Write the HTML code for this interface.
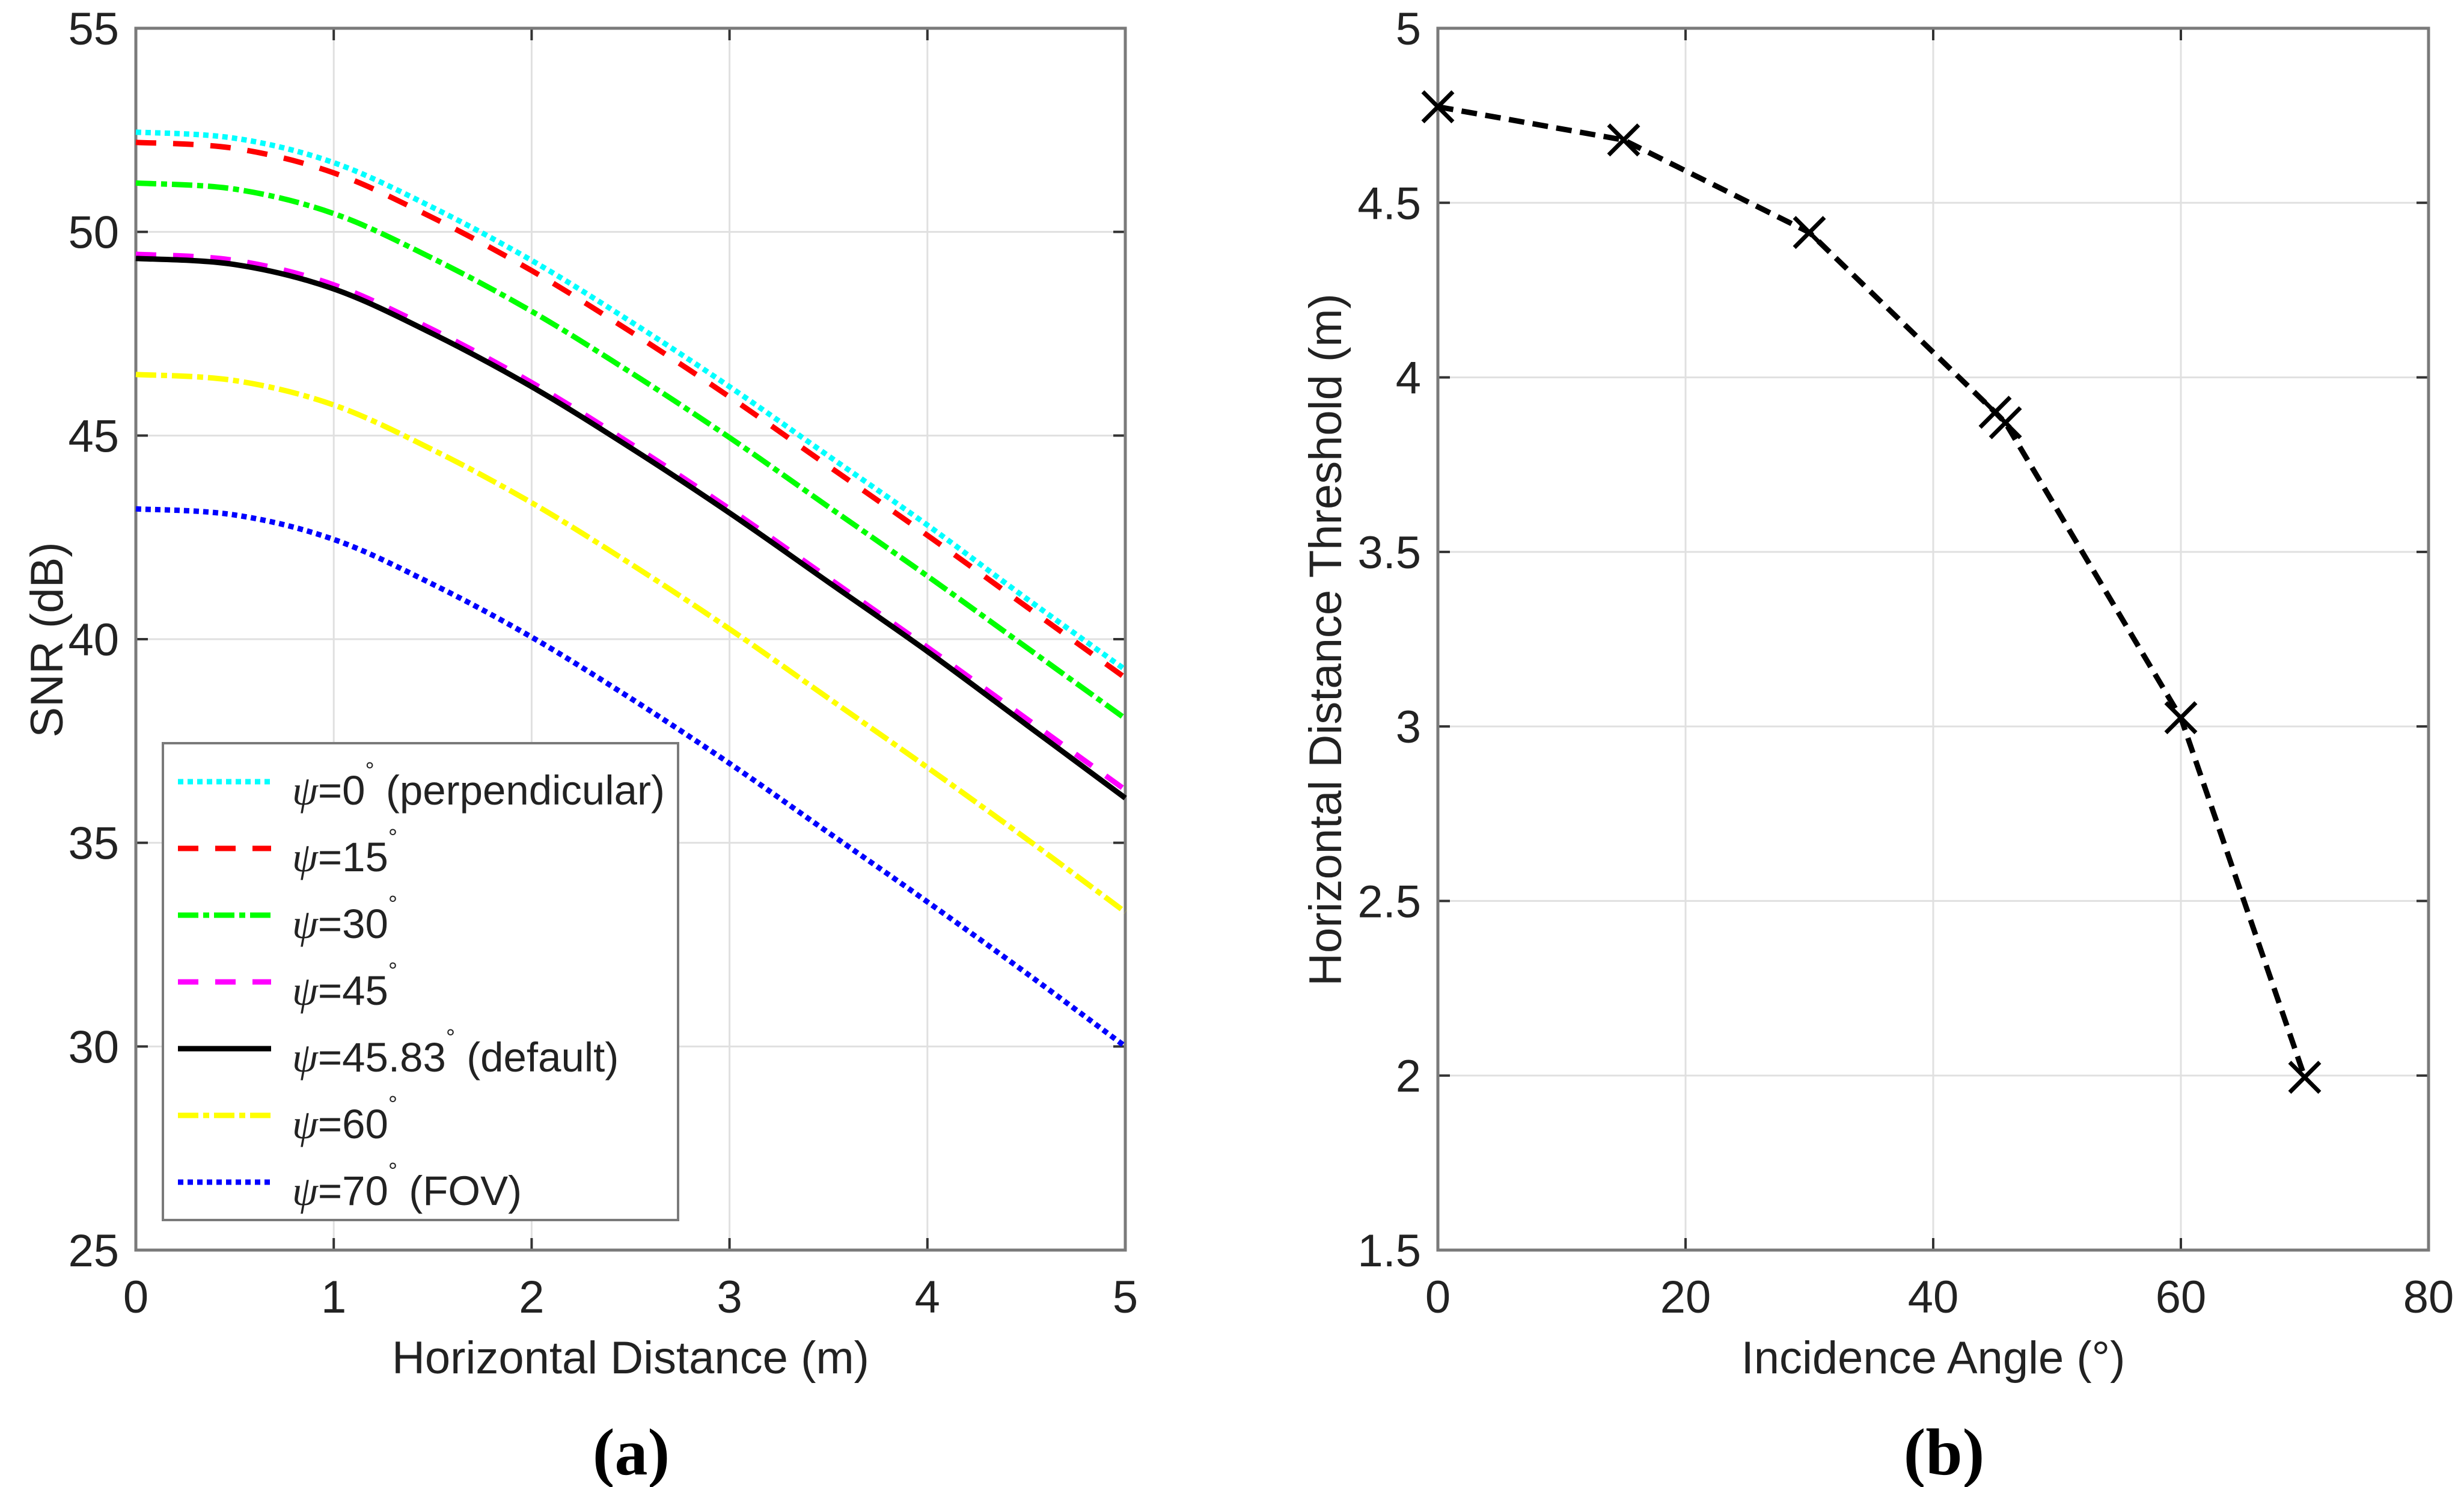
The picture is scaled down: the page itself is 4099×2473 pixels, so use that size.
<!DOCTYPE html>
<html><head><meta charset="utf-8"><style>
html,body{margin:0;padding:0;background:#fff;}
svg{display:block;font-family:"Liberation Sans",Arial,sans-serif;}
</style></head><body>
<svg id="fig" width="4099" height="2473" viewBox="0 0 4099 2473" xmlns="http://www.w3.org/2000/svg">
<rect x="0" y="0" width="4099" height="2473" fill="#fff"/>
<g id="pa"></g>
<g id="pb"></g>
<text x="1050" y="2452" font-family="Liberation Serif,serif" font-weight="bold" font-size="110" text-anchor="middle">(a)</text>
<text x="3234" y="2452" font-family="Liberation Serif,serif" font-weight="bold" font-size="110" text-anchor="middle">(b)</text>
</svg>
<script>
// ---- Chart (a) data ----
const distX = [0,0.5,1,1.5,2,2.5,3,3.5,4,4.5,5];
const snrPsi0  = [52.45,52.3,51.7,50.6,49.3,47.8,46.2,44.5,42.8,41.0,39.25];
const snrPsi15 = [52.2,52.05,51.45,50.35,49.05,47.55,45.95,44.25,42.55,40.8,39.05];
const snrPsi30 = [51.2,51.05,50.45,49.35,48.05,46.55,44.95,43.25,41.55,39.8,38.05];
const snrPsi45 = [49.45,49.3,48.7,47.6,46.3,44.8,43.2,41.5,39.8,38.05,36.3];
const snrPsiDefault = [49.35,49.2,48.6,47.5,46.2,44.7,43.1,41.4,39.7,37.9,36.1];
const snrPsi60 = [46.5,46.35,45.75,44.65,43.35,41.85,40.25,38.55,36.85,35.1,33.3];
const snrPsi70 = [43.2,43.05,42.45,41.35,40.05,38.55,36.95,35.25,33.55,31.8,30.0];
const aXTicks = [0,1,2,3,4,5];
const aYTicks = [25,30,35,40,45,50,55];
const legendLabels = [["0"," (perpendicular)"],["15",""],["30",""],["45",""],["45.83"," (default)"],["60",""],["70"," (FOV)"]];
// ---- Chart (b) data ----
const angleX = [0,15,30,45,45.83,60,70];
const thresholdY = [4.775,4.68,4.415,3.90,3.87,3.025,1.995];
const bXTicks = [0,20,40,60,80];
const bYTicks = [1.5,2,2.5,3,3.5,4,4.5,5];
const bYTickLabels = ["1.5","2","2.5","3","3.5","4","4.5","5"];

const NS="http://www.w3.org/2000/svg";
function mk(parent,tag,attrs){const e=document.createElementNS(NS,tag);for(const k in attrs)e.setAttribute(k,attrs[k]);parent.appendChild(e);return e;}

function smoothPath(pts){
  let d="M"+pts[0][0].toFixed(1)+","+pts[0][1].toFixed(1);
  for(let i=0;i<pts.length-1;i++){
    const p0=pts[Math.max(0,i-1)],p1=pts[i],p2=pts[i+1],p3=pts[Math.min(pts.length-1,i+2)];
    const c1x=p1[0]+(p2[0]-p0[0])/6,c1y=p1[1]+(p2[1]-p0[1])/6;
    const c2x=p2[0]-(p3[0]-p1[0])/6,c2y=p2[1]-(p3[1]-p1[1])/6;
    d+=" C"+c1x.toFixed(1)+","+c1y.toFixed(1)+" "+c2x.toFixed(1)+","+c2y.toFixed(1)+" "+p2[0].toFixed(1)+","+p2[1].toFixed(1);
  }
  return d;
}

function axesFrame(g,L,R,T,B,xt,yt,xs,ys,xlab,ylab,yFmt){
  for(const v of xt){const x=xs(v);
    const gl=mk(g,"line",{x1:x,y1:T,x2:x,y2:B,stroke:"#e0e0e0","stroke-width":3});
    
    }
  for(const v of yt){const y=ys(v);
    const gl=mk(g,"line",{x1:L,y1:y,x2:R,y2:y,stroke:"#e0e0e0","stroke-width":3});
    
    }
  xt.forEach(v=>{const x=xs(v);
    const t1=mk(g,"line",{x1:x,y1:B,x2:x,y2:B-20,stroke:"#333","stroke-width":4});
    
    
    const t2=mk(g,"line",{x1:x,y1:T,x2:x,y2:T+20,stroke:"#333","stroke-width":4});
    
    
    const tx=mk(g,"text",{x:x,y:B+104,"font-size":76,"text-anchor":"middle",fill:"#222"});tx.textContent=String(v);
    
    });
  yt.forEach((v,i)=>{const y=ys(v);
    const t1=mk(g,"line",{x1:L,y1:y,x2:L+20,y2:y,stroke:"#333","stroke-width":4});
    
    
    const t2=mk(g,"line",{x1:R,y1:y,x2:R-20,y2:y,stroke:"#333","stroke-width":4});
    
    
    const tx=mk(g,"text",{x:L-28,y:y+27,"font-size":76,"text-anchor":"end",fill:"#222"});tx.textContent=yFmt?yFmt[i]:String(v);
    
    });
  const box=mk(g,"rect",{x:L,y:T,width:R-L,height:B-T,fill:"none",stroke:"#7a7a7a","stroke-width":5});
  
  
  const xl=mk(g,"text",{x:(L+R)/2,y:2284,"font-size":76,"text-anchor":"middle",fill:"#222"});xl.textContent=xlab;
  
  
  return xl;
}

// ---------- Chart (a) ----------
(function(){
  const g=document.getElementById("pa");
  const L=226,R=1872,T=47,B=2079;
  const xs=v=>L+(v-0)/(5-0)*(R-L);
  const ys=v=>B-(v-25)/(55-25)*(B-T);
  axesFrame(g,L,R,T,B,aXTicks,aYTicks,xs,ys,"Horizontal Distance (m)");
  const yl=mk(g,"text",{x:0,y:0,"font-size":76,"text-anchor":"middle",fill:"#222",transform:"translate(104,1064) rotate(-90)"});
  yl.textContent="SNR (dB)";
  
  
  const series=[
    {d:snrPsi0,c:"#00ffff",dash:"9 7",n:"series-psi-0"},
    {d:snrPsi15,c:"#ff0000",dash:"34 28",n:"series-psi-15"},
    {d:snrPsi30,c:"#00ff00",dash:"34 8 10 8",n:"series-psi-30"},
    {d:snrPsi45,c:"#ff00ff",dash:"34 28",n:"series-psi-45"},
    {d:snrPsiDefault,c:"#000000",dash:"none",n:"series-psi-45-83"},
    {d:snrPsi60,c:"#ffff00",dash:"34 8 10 8",n:"series-psi-60"},
    {d:snrPsi70,c:"#0000ff",dash:"9 7",n:"series-psi-70"}];
  series.forEach(s=>{
    const pts=distX.map((x,i)=>[xs(x),ys(s.d[i])]);
    const p=mk(g,"path",{d:smoothPath(pts),fill:"none",stroke:s.c,"stroke-width":9,"stroke-dasharray":s.dash});
    
    
  });
  // legend
  const lg=mk(g,"g",{});
  
  
  const lb=mk(lg,"rect",{x:271,y:1236,width:857,height:793,fill:"#fff",stroke:"#7a7a7a","stroke-width":4});
  
  
  series.forEach((s,i)=>{
    const y=1300+i*111;
    const ln=mk(lg,"line",{x1:296,y1:y,x2:451,y2:y,stroke:s.c,"stroke-width":9,"stroke-dasharray":s.dash});
    
    
    const t=mk(lg,"text",{x:486,y:y+38,"font-size":69,fill:"#222"});
    
    
    const ps=mk(t,"tspan",{"font-family":"Liberation Serif,serif","font-style":"italic"});ps.textContent="ψ";
    const eq=mk(t,"tspan",{});eq.textContent="="+legendLabels[i][0];
    const dg=mk(t,"tspan",{"font-size":38,dy:-44});dg.textContent="°";
    const rest=mk(t,"tspan",{dy:44});rest.textContent=legendLabels[i][1];
  });
})();

// ---------- Chart (b) ----------
(function(){
  const g=document.getElementById("pb");
  const L=2392,R=4040,T=47,B=2079;
  const xs=v=>L+(v-0)/(80-0)*(R-L);
  const ys=v=>B-(v-1.5)/(5-1.5)*(B-T);
  axesFrame(g,L,R,T,B,bXTicks,bYTicks,xs,ys,"Incidence Angle (°)",null,bYTickLabels);
  const yl=mk(g,"text",{x:0,y:0,"font-size":76,"text-anchor":"middle",fill:"#222",transform:"translate(2231,1064) rotate(-90)"});
  yl.textContent="Horizontal Distance Threshold (m)";
  
  
  const pts=angleX.map((x,i)=>xs(x).toFixed(1)+","+ys(thresholdY[i]).toFixed(1)).join(" ");
  const pl=mk(g,"polyline",{points:pts,fill:"none",stroke:"#000","stroke-width":9,"stroke-dasharray":"26 14"});
  
  
  angleX.forEach((x,i)=>{
    const cx=xs(x),cy=ys(thresholdY[i]),r=25;
    const m=mk(g,"path",{d:`M${cx-r},${cy-r}L${cx+r},${cy+r}M${cx-r},${cy+r}L${cx+r},${cy-r}`,stroke:"#000","stroke-width":7,fill:"none"});
    
    
  });
})();
</script>
</body></html>
